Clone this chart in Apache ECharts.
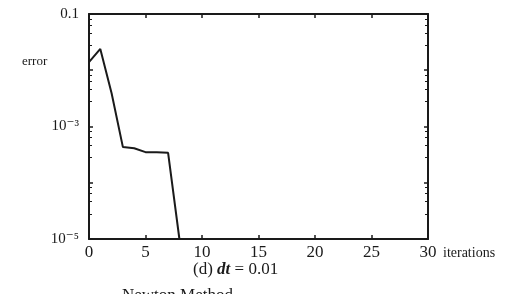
<!DOCTYPE html>
<html>
<head>
<meta charset="utf-8">
<script src="https://cdn.jsdelivr.net/npm/echarts@6/dist/echarts.min.js"></script>
<style>
  html, body { margin: 0; padding: 0; background: #fff; }
  #chart { width: 531px; height: 294px; }
</style>
</head>
<body>
<div id="chart"></div>
<script>
const iterations = [0, 1, 2, 3, 4, 5, 6, 7, 8];
const errorValues = [0.0140, 0.0239, 0.0039, 0.00043, 0.00041, 0.00035, 0.00035, 0.00034, 0.00001];
const xTicks = [0, 5, 10, 15, 20, 25, 30];
const yLabels = { '-1': '0.1', '-3': '10⁻³', '-5': '10⁻⁵' };

const serif = '"Liberation Serif", "DejaVu Serif", serif';
const ink = '#1a1a1a';

const chart = echarts.init(document.getElementById('chart'));

const boxAxis = {
  axisLine: { show: true, onZero: false, lineStyle: { color: ink, width: 2 } },
  axisTick: { show: true, inside: true, length: 4, lineStyle: { color: ink, width: 1.5 } },
  splitLine: { show: false },
};

chart.setOption({
  animation: false,
  backgroundColor: '#fff',
  grid: { left: 89, right: 103, top: 14, bottom: 55 },
  xAxis: [
    {
      type: 'value', min: 0, max: 30, interval: 5,
      ...boxAxis,
      axisLabel: {
        color: ink, fontFamily: serif, fontSize: 17, margin: 5,
        formatter: v => xTicks.includes(v) ? String(v) : '',
      },
    },
    {
      type: 'value', position: 'top', min: 0, max: 30, interval: 5,
      ...boxAxis,
      axisLabel: { show: false },
    },
  ],
  yAxis: [
    {
      type: 'log', logBase: 10, min: 1e-5, max: 0.1,
      ...boxAxis,
      minorTick: { show: true, splitNumber: 5, length: 3, lineStyle: { color: ink } },
      axisLabel: {
        color: ink, fontFamily: serif, fontSize: 15, margin: 10,
        formatter: v => {
          const k = String(Math.round(Math.log10(v)));
          return yLabels[k] || '';
        },
      },
    },
    {
      type: 'log', logBase: 10, min: 1e-5, max: 0.1, position: 'right',
      ...boxAxis,
      minorTick: { show: true, splitNumber: 5, length: 3, lineStyle: { color: ink } },
      axisLabel: { show: false },
    },
  ],
  series: [
    {
      type: 'line',
      data: iterations.map((x, i) => [x, errorValues[i]]),
      showSymbol: false,
      lineStyle: { color: ink, width: 2 },
    },
  ],
  graphic: [
    {
      type: 'text', left: 22, top: 55,
      style: { text: 'error', font: '13px ' + serif, fill: ink },
    },
    {
      type: 'text', left: 443, top: 246,
      style: { text: 'iterations', font: '14px ' + serif, fill: ink },
    },
    {
      type: 'text', left: 193, top: 261,
      style: {
        rich: {
          n: { fontFamily: serif, fontSize: 17, fill: ink },
          i: { fontFamily: serif, fontSize: 17, fontStyle: 'italic', fontWeight: 'bold', fill: ink },
        },
        text: '{n|(d) }{i|dt}{n| = 0.01}',
      },
    },
    {
      type: 'text', left: 122, top: 287,
      style: { text: 'Newton Method', font: '17px ' + serif, fill: ink },
    },
  ],
});
</script>
</body>
</html>
